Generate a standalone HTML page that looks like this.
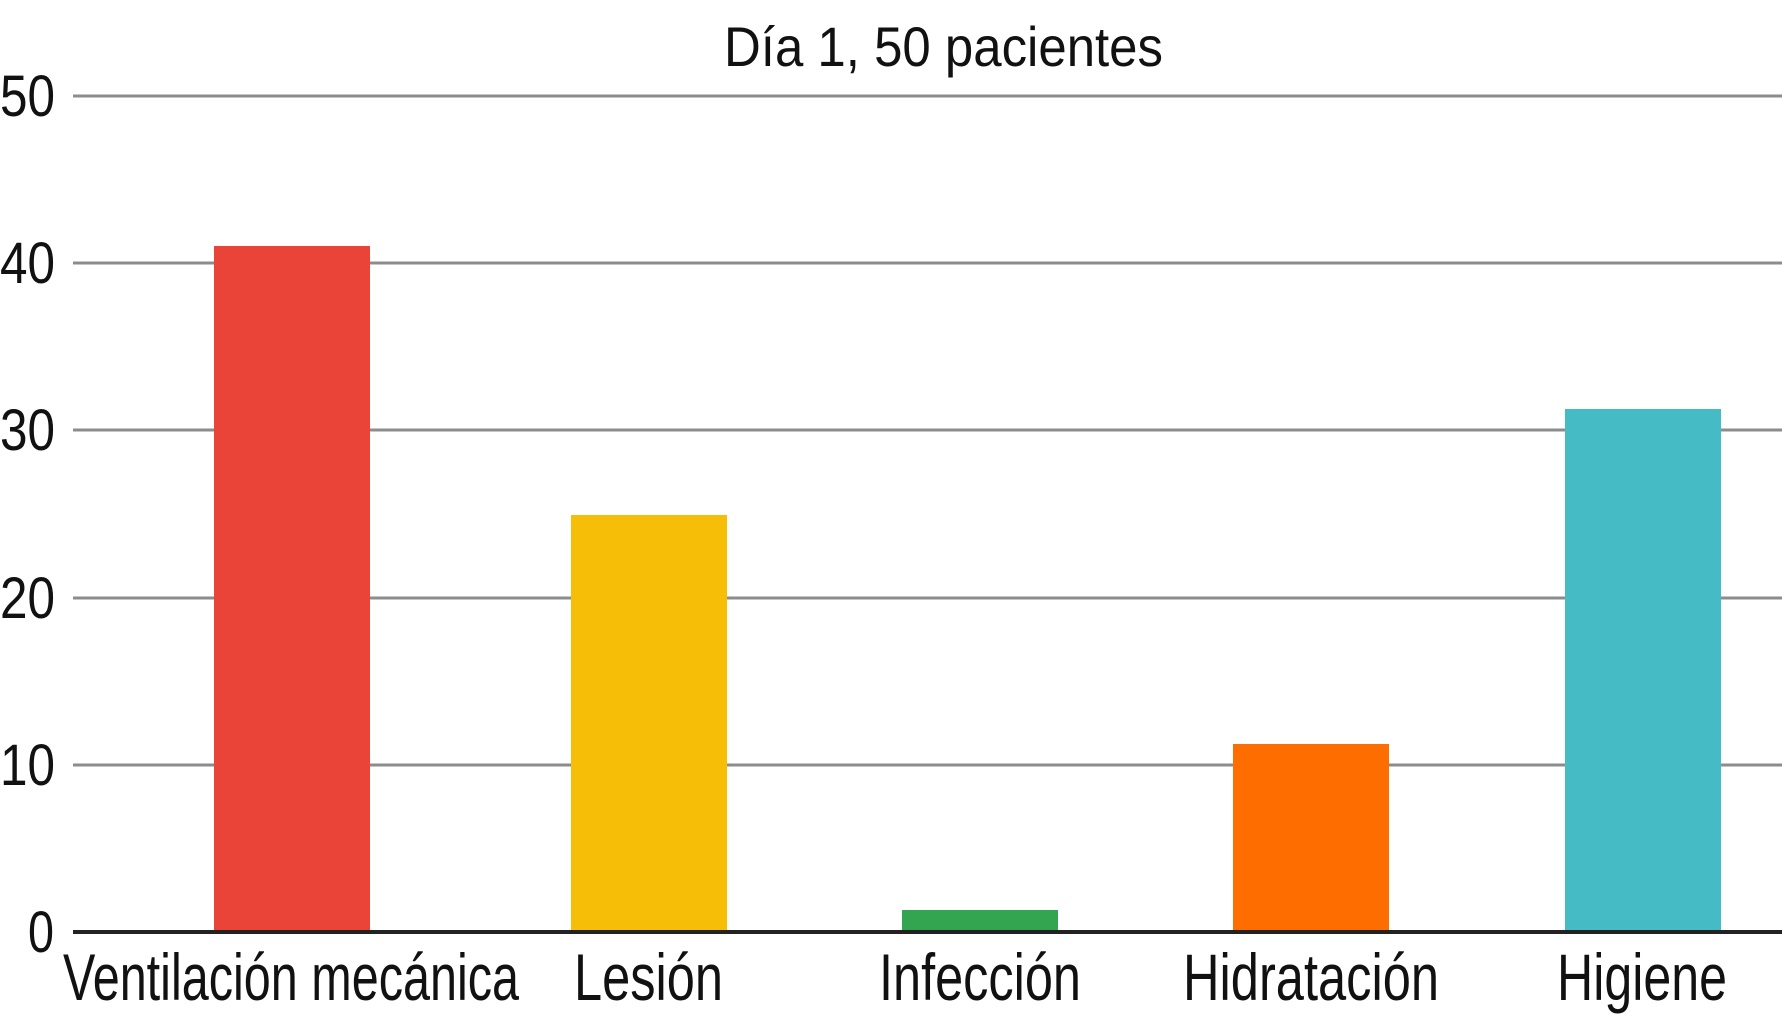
<!DOCTYPE html>
<html><head><meta charset="utf-8"><style>html,body{margin:0;padding:0;background:#fff}svg{display:block}</style></head>
<body>
<svg width="1782" height="1024" xmlns="http://www.w3.org/2000/svg" font-family="'Liberation Sans',sans-serif">
<rect width="1782" height="1024" fill="#fff"/>
<g stroke="#8c8c8c" stroke-width="3">
<line x1="73" y1="96" x2="1782" y2="96"/>
<line x1="73" y1="263" x2="1782" y2="263"/>
<line x1="73" y1="430" x2="1782" y2="430"/>
<line x1="73" y1="598" x2="1782" y2="598"/>
<line x1="73" y1="765" x2="1782" y2="765"/>
</g>
<rect x="214" y="246" width="156" height="686" fill="#e94437"/>
<rect x="571" y="515" width="156" height="417" fill="#f7be08"/>
<rect x="902" y="910" width="156" height="22" fill="#33a551"/>
<rect x="1233" y="744" width="156" height="188" fill="#fe6d00"/>
<rect x="1565" y="409" width="156" height="523" fill="#45bcc5"/>
<line x1="73" y1="932" x2="1782" y2="932" stroke="#222" stroke-width="4"/>
<g font-size="58" fill="#111" lengthAdjust="spacingAndGlyphs">
<text x="0" y="116" textLength="55" lengthAdjust="spacingAndGlyphs">50</text>
<text x="0" y="283" textLength="55" lengthAdjust="spacingAndGlyphs">40</text>
<text x="0" y="450" textLength="55" lengthAdjust="spacingAndGlyphs">30</text>
<text x="0" y="618" textLength="55" lengthAdjust="spacingAndGlyphs">20</text>
<text x="0" y="785" textLength="55" lengthAdjust="spacingAndGlyphs">10</text>
<text x="28" y="952" textLength="26" lengthAdjust="spacingAndGlyphs">0</text>
</g>
<text x="724" y="66" font-size="56" fill="#111" textLength="439" lengthAdjust="spacingAndGlyphs">Día 1, 50 pacientes</text>
<g font-size="66" fill="#111">
<text x="63" y="1000" textLength="456" lengthAdjust="spacingAndGlyphs">Ventilación mecánica</text>
<text x="574" y="1000" textLength="149" lengthAdjust="spacingAndGlyphs">Lesión</text>
<text x="879" y="1000" textLength="202" lengthAdjust="spacingAndGlyphs">Infección</text>
<text x="1183" y="1000" textLength="256" lengthAdjust="spacingAndGlyphs">Hidratación</text>
<text x="1557" y="1000" textLength="170" lengthAdjust="spacingAndGlyphs">Higiene</text>
</g>
</svg>
</body></html>
